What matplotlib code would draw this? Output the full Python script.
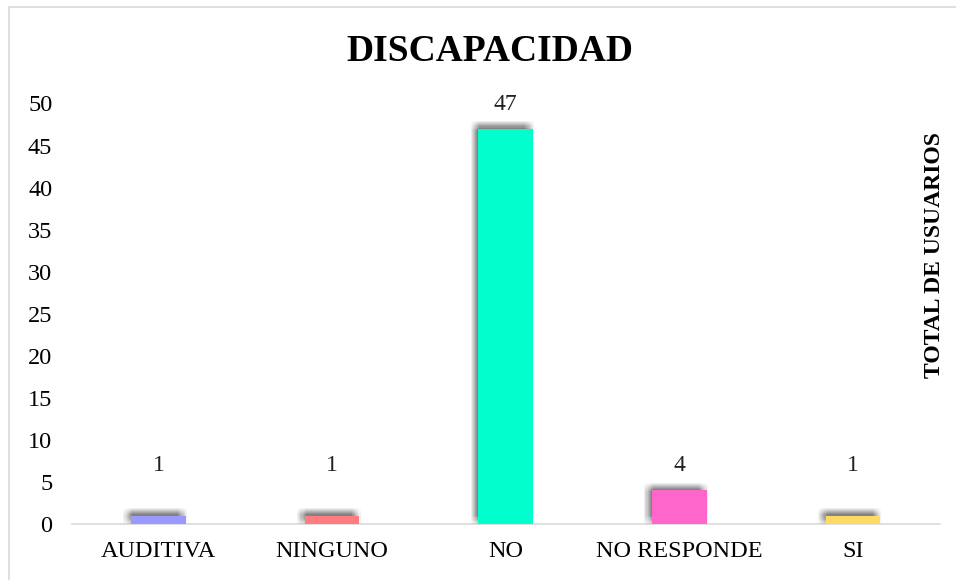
import matplotlib.pyplot as plt
import matplotlib.patheffects as pe
from matplotlib.patches import Rectangle

categorias = ['AUDITIVA', 'NINGUNO', 'NO', 'NO RESPONDE', 'SI']
usuarios = [1, 1, 47, 4, 1]
colores = ['#9999FF', '#FF7C80', '#00FFCC', '#FF66CC', '#FFD966']

plt.rcParams['font.family'] = ['Liberation Serif', 'DejaVu Serif']

fig = plt.figure(figsize=(9.56, 5.8), dpi=100)
ax = fig.add_axes([0.075, 0.0966, 0.908, 0.725])

# soft shadow: many faint copies around an up-left offset
sombra = []
for dx in range(-7, 2):
    for dy in range(-1, 8):
        sombra.append(pe.SimplePatchShadow(offset=(dx * 0.8, dy * 0.8), shadow_rgbFace='black', alpha=0.008))
sombra.append(pe.Normal())

x = range(len(categorias))
barras = ax.bar(x, usuarios, width=0.315, color=colores, zorder=3)
for b in barras:
    b.set_path_effects(sombra)

for i, v in enumerate(usuarios):
    ax.annotate(str(v), (i, max(v, 4)), xytext=(0, 10), textcoords='offset points',
                ha='center', va='bottom', fontsize=17, color='#222222')

ax.set_xlim(-0.5, 4.5)
ax.set_ylim(0, 50)
ax.set_yticks(range(0, 51, 5))
ax.set_xticks(list(x))
ax.set_xticklabels(categorias)
ax.tick_params(axis='both', length=0, labelsize=17.5, colors='black')
ax.tick_params(axis='y', pad=14)
ax.tick_params(axis='x', pad=12)

for s in ['top', 'right', 'left']:
    ax.spines[s].set_visible(False)
ax.spines['bottom'].set_color('#D9D9D9')
ax.spines['bottom'].set_linewidth(1.2)

fig.text(935 / 956, 1 - 255 / 580, 'TOTAL DE USUARIOS', rotation=90, ha='center', va='center',
         fontsize=17, fontweight='bold')

fig.text(0.512, 0.911, 'DISCAPACIDAD', ha='center', va='center', fontsize=27, fontweight='bold')

# chart border
fig.patches.append(Rectangle((9 / 956, -0.01), 1.2, 1 - 7 / 580 + 0.01, transform=fig.transFigure,
                             fill=False, edgecolor='#D9D9D9', linewidth=1.2))

fig.savefig('out.png', dpi=100)
